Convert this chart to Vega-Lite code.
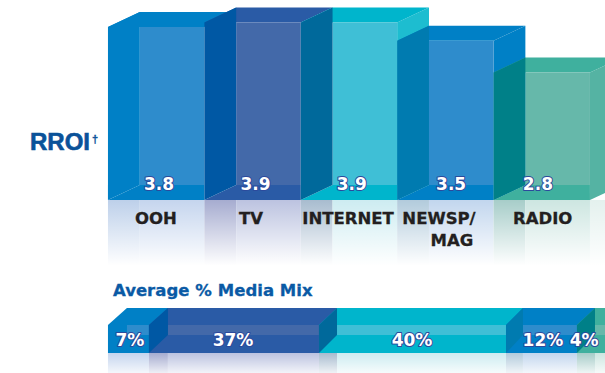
{
  "$schema": "https://vega.github.io/schema/vega-lite/v6.json",
  "width": 605,
  "height": 373,
  "padding": 0,
  "autosize": {"type": "fit", "contains": "padding"},
  "background": "#ffffff",
  "view": {"stroke": null},
  "datasets": {
    "bars": [
      {"medium": "OOH", "rroi": 3.8, "slot": 0.53},
      {"medium": "TV", "rroi": 3.9, "slot": 1.53},
      {"medium": "INTERNET", "rroi": 3.9, "slot": 2.53},
      {"medium": "NEWSP/MAG", "rroi": 3.5, "slot": 3.56},
      {"medium": "RADIO", "rroi": 2.8, "slot": 4.46}
    ],
    "mix": [
      {"medium": "OOH", "share": "7%", "slot": 0.228},
      {"medium": "TV", "share": "37%", "slot": 1.297},
      {"medium": "INTERNET", "share": "40%", "slot": 3.154},
      {"medium": "NEWSP/MAG", "share": "12%", "slot": 4.512},
      {"medium": "RADIO", "share": "4%", "slot": 4.94}
    ],
    "names": [
      {"label": "OOH", "slot": 0.498, "level": -0.418},
      {"label": "TV", "slot": 1.483, "level": -0.418},
      {"label": "INTERNET", "slot": 2.49, "level": -0.418},
      {"label": "NEWSP/", "slot": 3.434, "level": -0.418},
      {"label": "MAG", "slot": 3.568, "level": -0.9},
      {"label": "RADIO", "slot": 4.51, "level": -0.418}
    ],
    "floor": [
      {"tone": "floor ooh side", "x": 0, "x2": 0.33, "y": 0, "y2": -1.5},
      {"tone": "floor ooh", "x": 0.33, "x2": 1, "y": 0, "y2": -1.5},
      {"tone": "floor tv side", "x": 1, "x2": 1.33, "y": 0, "y2": -1.5},
      {"tone": "floor tv", "x": 1.33, "x2": 2, "y": 0, "y2": -1.5},
      {"tone": "floor internet side", "x": 2, "x2": 2.33, "y": 0, "y2": -1.5},
      {"tone": "floor internet", "x": 2.33, "x2": 3, "y": 0, "y2": -1.5},
      {"tone": "floor news side", "x": 3, "x2": 3.33, "y": 0, "y2": -1.5},
      {"tone": "floor news", "x": 3.33, "x2": 4, "y": 0, "y2": -1.5},
      {"tone": "floor radio side", "x": 4, "x2": 4.33, "y": 0, "y2": -1.5},
      {"tone": "floor radio", "x": 4.33, "x2": 5, "y": 0, "y2": -1.5},
      {"tone": "floor end", "x": 5, "x2": 5.16, "y": 0, "y2": -1.5},
      {"tone": "floor ooh", "x": 0, "x2": 0.425, "y": -3.363, "y2": -3.802},
      {"tone": "floor tv side", "x": 0.425, "x2": 0.622, "y": -3.363, "y2": -3.802},
      {"tone": "floor tv", "x": 0.622, "x2": 2.189, "y": -3.363, "y2": -3.802},
      {"tone": "floor internet side", "x": 2.189, "x2": 2.376, "y": -3.363, "y2": -3.802},
      {"tone": "floor internet", "x": 2.376, "x2": 4.129, "y": -3.363, "y2": -3.802},
      {"tone": "floor news side", "x": 4.129, "x2": 4.305, "y": -3.363, "y2": -3.802},
      {"tone": "floor news", "x": 4.305, "x2": 4.865, "y": -3.363, "y2": -3.802},
      {"tone": "floor radio side", "x": 4.865, "x2": 5.052, "y": -3.363, "y2": -3.802},
      {"tone": "floor radio", "x": 5.052, "x2": 5.16, "y": -3.363, "y2": -3.802}
    ],
    "fades": [
      {"x": -0.01, "x2": 5.16, "y": 0, "y2": -1.6},
      {"x": -0.01, "x2": 5.16, "y": -3.363, "y2": -3.96}
    ],
    "faces": [
      {"face": "ooh top", "tone": "sky", "x": 0, "y": 3.8, "y2": 3.8},
      {"face": "ooh top", "tone": "sky", "x": 0.33, "y": 3.8, "y2": 4.13},
      {"face": "ooh top", "tone": "sky", "x": 1, "y": 3.8, "y2": 4.13},
      {"face": "ooh top", "tone": "sky", "x": 1.33, "y": 4.13, "y2": 4.13},
      {"face": "ooh bottom", "tone": "sky", "x": 0, "y": 0, "y2": 0},
      {"face": "ooh bottom", "tone": "sky", "x": 0.33, "y": 0, "y2": 0.33},
      {"face": "ooh bottom", "tone": "sky", "x": 1, "y": 0, "y2": 0.33},
      {"face": "ooh front", "tone": "sky front", "x": 0.33, "y": 0.33, "y2": 3.8},
      {"face": "ooh front", "tone": "sky front", "x": 1, "y": 0.33, "y2": 3.8},
      {"face": "ooh side", "tone": "sky", "x": 0, "y": 0, "y2": 3.8},
      {"face": "ooh side", "tone": "sky", "x": 0.33, "y": 0.33, "y2": 4.13},

      {"face": "tv top", "tone": "navy", "x": 1, "y": 3.9, "y2": 3.9},
      {"face": "tv top", "tone": "navy", "x": 1.33, "y": 3.9, "y2": 4.23},
      {"face": "tv top", "tone": "navy", "x": 2, "y": 3.9, "y2": 4.23},
      {"face": "tv top", "tone": "navy", "x": 2.33, "y": 4.23, "y2": 4.23},
      {"face": "tv bottom", "tone": "navy", "x": 1, "y": 0, "y2": 0},
      {"face": "tv bottom", "tone": "navy", "x": 1.33, "y": 0, "y2": 0.33},
      {"face": "tv bottom", "tone": "navy", "x": 2, "y": 0, "y2": 0.33},
      {"face": "tv front", "tone": "navy front", "x": 1.33, "y": 0.33, "y2": 3.9},
      {"face": "tv front", "tone": "navy front", "x": 2, "y": 0.33, "y2": 3.9},
      {"face": "tv side", "tone": "navy side", "x": 1, "y": 0, "y2": 3.9},
      {"face": "tv side", "tone": "navy side", "x": 1.33, "y": 0.33, "y2": 4.23},

      {"face": "internet right", "tone": "cyan right", "x": 3, "y": 0, "y2": 3.9},
      {"face": "internet right", "tone": "cyan right", "x": 3.33, "y": 0.33, "y2": 4.23},
      {"face": "internet top", "tone": "cyan", "x": 2, "y": 3.9, "y2": 3.9},
      {"face": "internet top", "tone": "cyan", "x": 2.33, "y": 3.9, "y2": 4.23},
      {"face": "internet top", "tone": "cyan", "x": 3, "y": 3.9, "y2": 4.23},
      {"face": "internet top", "tone": "cyan", "x": 3.33, "y": 4.23, "y2": 4.23},
      {"face": "internet bottom", "tone": "cyan", "x": 2, "y": 0, "y2": 0},
      {"face": "internet bottom", "tone": "cyan", "x": 2.33, "y": 0, "y2": 0.33},
      {"face": "internet bottom", "tone": "cyan", "x": 3, "y": 0, "y2": 0.33},
      {"face": "internet front", "tone": "cyan front", "x": 2.33, "y": 0.33, "y2": 3.9},
      {"face": "internet front", "tone": "cyan front", "x": 3, "y": 0.33, "y2": 3.9},
      {"face": "internet side", "tone": "cyan side", "x": 2, "y": 0, "y2": 3.9},
      {"face": "internet side", "tone": "cyan side", "x": 2.33, "y": 0.33, "y2": 4.23},

      {"face": "news right", "tone": "sky", "x": 4, "y": 0, "y2": 3.5},
      {"face": "news right", "tone": "sky", "x": 4.33, "y": 0.33, "y2": 3.83},
      {"face": "news top", "tone": "sky", "x": 3, "y": 3.5, "y2": 3.5},
      {"face": "news top", "tone": "sky", "x": 3.33, "y": 3.5, "y2": 3.83},
      {"face": "news top", "tone": "sky", "x": 4, "y": 3.5, "y2": 3.83},
      {"face": "news top", "tone": "sky", "x": 4.33, "y": 3.83, "y2": 3.83},
      {"face": "news bottom", "tone": "sky", "x": 3, "y": 0, "y2": 0},
      {"face": "news bottom", "tone": "sky", "x": 3.33, "y": 0, "y2": 0.33},
      {"face": "news bottom", "tone": "sky", "x": 4, "y": 0, "y2": 0.33},
      {"face": "news front", "tone": "sky front", "x": 3.33, "y": 0.33, "y2": 3.5},
      {"face": "news front", "tone": "sky front", "x": 4, "y": 0.33, "y2": 3.5},
      {"face": "news side", "tone": "news side", "x": 3, "y": 0, "y2": 3.5},
      {"face": "news side", "tone": "news side", "x": 3.33, "y": 0.33, "y2": 3.83},

      {"face": "radio right", "tone": "teal right", "x": 5, "y": 0, "y2": 2.8},
      {"face": "radio right", "tone": "teal right", "x": 5.33, "y": 0.33, "y2": 3.13},
      {"face": "radio top", "tone": "teal", "x": 4, "y": 2.8, "y2": 2.8},
      {"face": "radio top", "tone": "teal", "x": 4.33, "y": 2.8, "y2": 3.13},
      {"face": "radio top", "tone": "teal", "x": 5, "y": 2.8, "y2": 3.13},
      {"face": "radio top", "tone": "teal", "x": 5.33, "y": 3.13, "y2": 3.13},
      {"face": "radio bottom", "tone": "teal", "x": 4, "y": 0, "y2": 0},
      {"face": "radio bottom", "tone": "teal", "x": 4.33, "y": 0, "y2": 0.33},
      {"face": "radio bottom", "tone": "teal", "x": 5, "y": 0, "y2": 0.33},
      {"face": "radio front", "tone": "teal front", "x": 4.33, "y": 0.33, "y2": 2.8},
      {"face": "radio front", "tone": "teal front", "x": 5, "y": 0.33, "y2": 2.8},
      {"face": "radio side", "tone": "teal side", "x": 4, "y": 0, "y2": 2.8},
      {"face": "radio side", "tone": "teal side", "x": 4.33, "y": 0.33, "y2": 3.13},

      {"face": "mix ooh body", "tone": "sky", "x": 0, "y": -3.363, "y2": -2.747},
      {"face": "mix ooh body", "tone": "sky", "x": 0.197, "y": -3.363, "y2": -2.374},
      {"face": "mix ooh body", "tone": "sky", "x": 0.622, "y": -3.363, "y2": -2.374},
      {"face": "mix ooh stripe", "tone": "sky front", "x": 0.197, "y": -2.967, "y2": -2.747},
      {"face": "mix ooh stripe", "tone": "sky front", "x": 0.425, "y": -2.967, "y2": -2.747},
      {"face": "mix tv body", "tone": "navy", "x": 0.425, "y": -3.363, "y2": -2.747},
      {"face": "mix tv body", "tone": "navy", "x": 0.622, "y": -3.363, "y2": -2.374},
      {"face": "mix tv body", "tone": "navy", "x": 2.376, "y": -3.363, "y2": -2.374},
      {"face": "mix tv stripe", "tone": "navy front", "x": 0.622, "y": -2.967, "y2": -2.747},
      {"face": "mix tv stripe", "tone": "navy front", "x": 2.189, "y": -2.967, "y2": -2.747},
      {"face": "mix tv side", "tone": "navy side", "x": 0.425, "y": -3.363, "y2": -2.747},
      {"face": "mix tv side", "tone": "navy side", "x": 0.622, "y": -2.967, "y2": -2.374},
      {"face": "mix internet body", "tone": "cyan", "x": 2.189, "y": -3.363, "y2": -2.747},
      {"face": "mix internet body", "tone": "cyan", "x": 2.376, "y": -3.363, "y2": -2.374},
      {"face": "mix internet body", "tone": "cyan", "x": 4.305, "y": -3.363, "y2": -2.374},
      {"face": "mix internet stripe", "tone": "cyan front", "x": 2.376, "y": -2.967, "y2": -2.747},
      {"face": "mix internet stripe", "tone": "cyan front", "x": 4.129, "y": -2.967, "y2": -2.747},
      {"face": "mix internet side", "tone": "cyan side", "x": 2.189, "y": -3.363, "y2": -2.747},
      {"face": "mix internet side", "tone": "cyan side", "x": 2.376, "y": -2.967, "y2": -2.374},
      {"face": "mix news body", "tone": "sky", "x": 4.129, "y": -3.363, "y2": -2.747},
      {"face": "mix news body", "tone": "sky", "x": 4.305, "y": -3.363, "y2": -2.374},
      {"face": "mix news body", "tone": "sky", "x": 5.052, "y": -3.363, "y2": -2.374},
      {"face": "mix news stripe", "tone": "sky front", "x": 4.305, "y": -2.967, "y2": -2.747},
      {"face": "mix news stripe", "tone": "sky front", "x": 4.865, "y": -2.967, "y2": -2.747},
      {"face": "mix news side", "tone": "news side", "x": 4.129, "y": -3.363, "y2": -2.747},
      {"face": "mix news side", "tone": "news side", "x": 4.305, "y": -2.967, "y2": -2.374},
      {"face": "mix radio body", "tone": "teal", "x": 4.865, "y": -3.363, "y2": -2.747},
      {"face": "mix radio body", "tone": "teal", "x": 5.052, "y": -3.363, "y2": -2.374},
      {"face": "mix radio body", "tone": "teal", "x": 5.3, "y": -3.363, "y2": -2.374},
      {"face": "mix radio stripe", "tone": "teal front", "x": 5.052, "y": -2.967, "y2": -2.747},
      {"face": "mix radio stripe", "tone": "teal front", "x": 5.3, "y": -2.967, "y2": -2.747},
      {"face": "mix radio side", "tone": "teal side", "x": 4.865, "y": -3.363, "y2": -2.747},
      {"face": "mix radio side", "tone": "teal side", "x": 5.052, "y": -2.967, "y2": -2.374}
    ]
  },
  "layer": [
    {
      "data": {"name": "floor"},
      "mark": {"type": "rect", "clip": true},
      "encoding": {
        "x": {"field": "x", "type": "quantitative"},
        "x2": {"field": "x2"},
        "y": {"field": "y", "type": "quantitative"},
        "y2": {"field": "y2"},
        "fill": {"field": "tone", "type": "nominal"}
      }
    },
    {
      "data": {"name": "fades"},
      "mark": {
        "type": "rect",
        "clip": true,
        "color": {
          "gradient": "linear",
          "x1": 0, "y1": 0, "x2": 0, "y2": 1,
          "stops": [
            {"offset": 0, "color": "rgba(255,255,255,0)"},
            {"offset": 0.9, "color": "rgba(255,255,255,1)"},
            {"offset": 1, "color": "rgba(255,255,255,1)"}
          ]
        }
      },
      "encoding": {
        "x": {"field": "x", "type": "quantitative"},
        "x2": {"field": "x2"},
        "y": {"field": "y", "type": "quantitative"},
        "y2": {"field": "y2"}
      }
    },
    {
      "data": {"name": "faces"},
      "mark": {"type": "area", "clip": true, "orient": "vertical", "fillOpacity": 1},
      "encoding": {
        "x": {"field": "x", "type": "quantitative"},
        "y": {"field": "y", "type": "quantitative", "stack": null},
        "y2": {"field": "y2"},
        "detail": {"field": "face"},
        "fill": {"field": "tone", "type": "nominal"}
      }
    },
    {
      "data": {"name": "bars"},
      "mark": {"type": "text", "font": "DejaVu Sans", "fontWeight": "bold", "fontSize": 17, "stroke": "#2c4a9c", "strokeWidth": 2, "strokeJoin": "round", "baseline": "middle"},
      "encoding": {
        "x": {"field": "slot", "type": "quantitative"},
        "y": {"datum": 0.33},
        "text": {"field": "rroi", "type": "quantitative", "format": ".1f"}
      }
    },
    {
      "data": {"name": "bars"},
      "mark": {"type": "text", "font": "DejaVu Sans", "fontWeight": "bold", "fontSize": 17, "fill": "#ffffff", "baseline": "middle"},
      "encoding": {
        "x": {"field": "slot", "type": "quantitative"},
        "y": {"datum": 0.33},
        "text": {"field": "rroi", "type": "quantitative", "format": ".1f"}
      }
    },
    {
      "data": {"name": "mix"},
      "mark": {"type": "text", "font": "DejaVu Sans", "fontWeight": "bold", "fontSize": 17, "stroke": "#2c4a9c", "strokeWidth": 2, "strokeJoin": "round", "baseline": "middle"},
      "encoding": {
        "x": {"field": "slot", "type": "quantitative"},
        "y": {"datum": -3.1},
        "text": {"field": "share"}
      }
    },
    {
      "data": {"name": "mix"},
      "mark": {"type": "text", "font": "DejaVu Sans", "fontWeight": "bold", "fontSize": 17, "fill": "#ffffff", "baseline": "middle"},
      "encoding": {
        "x": {"field": "slot", "type": "quantitative"},
        "y": {"datum": -3.1},
        "text": {"field": "share"}
      }
    },
    {
      "data": {"name": "names"},
      "mark": {"type": "text", "font": "DejaVu Sans", "fontWeight": "bold", "fontSize": 16.5, "fill": "#231f20", "stroke": "#231f20", "strokeWidth": 0.3, "baseline": "middle"},
      "encoding": {
        "x": {"field": "slot", "type": "quantitative"},
        "y": {"field": "level", "type": "quantitative"},
        "text": {"field": "label"}
      }
    },
    {
      "data": {"values": [{"label": "Average %", "slot": 0.052, "level": -2.0}, {"label": "Media Mix", "slot": 1.14, "level": -2.0}]},
      "mark": {"type": "text", "font": "DejaVu Sans", "fontWeight": "bold", "fontSize": 16.5, "fill": "#0a5aa5", "stroke": "#0a5aa5", "strokeWidth": 0.3, "align": "left", "baseline": "middle"},
      "encoding": {
        "x": {"field": "slot", "type": "quantitative"},
        "y": {"field": "level", "type": "quantitative"},
        "text": {"field": "label"}
      }
    },
    {
      "data": {"values": [{"label": "RROI", "slot": -0.809, "level": 1.253}]},
      "mark": {"type": "text", "font": "Liberation Sans", "fontWeight": "bold", "fontSize": 24, "fill": "#0a5299", "stroke": "#0a5299", "strokeWidth": 0.6, "align": "left", "baseline": "middle"},
      "encoding": {
        "x": {"field": "slot", "type": "quantitative"},
        "y": {"field": "level", "type": "quantitative"},
        "text": {"field": "label"}
      }
    },
    {
      "data": {"values": [{"label": "†", "slot": -0.166, "level": 1.32}]},
      "mark": {"type": "text", "font": "Liberation Sans", "fontWeight": "bold", "fontSize": 11, "fill": "#0a5299", "stroke": "#0a5299", "strokeWidth": 0.3, "align": "left", "baseline": "middle"},
      "encoding": {
        "x": {"field": "slot", "type": "quantitative"},
        "y": {"field": "level", "type": "quantitative"},
        "text": {"field": "label"}
      }
    }
  ],
  "resolve": {"scale": {"fill": "shared"}},
  "encoding": {
    "x": {"scale": {"domain": [-1.12, 5.156], "nice": false, "zero": false}, "axis": null},
    "y": {"scale": {"domain": [-3.802, 4.396], "nice": false, "zero": false}, "axis": null},
    "fill": {
      "legend": null,
      "scale": {
        "domain": ["sky", "sky front", "navy", "navy front", "navy side", "cyan", "cyan front", "cyan side", "cyan right", "news side", "teal", "teal front", "teal side", "teal right", "floor ooh side", "floor ooh", "floor tv side", "floor tv", "floor internet side", "floor internet", "floor news side", "floor news", "floor radio side", "floor radio", "floor end"],
        "range": ["#0080c6", "#2e8ccc", "#2a5ba6", "#4369a9", "#0058a4", "#00b5cc", "#3fbfd6", "#00699b", "#1dbdd0", "#007bb0", "#3fb09e", "#66b8aa", "#008088", "#55b3a3", "#bdd0ea", "#c5d5ee", "#a6acd0", "#bcc3e0", "#a8bccf", "#cdecf1", "#b2cbdc", "#c2d6ee", "#a7cdc9", "#cde6e1", "#e4f1ee"]
      }
    }
  }
}
